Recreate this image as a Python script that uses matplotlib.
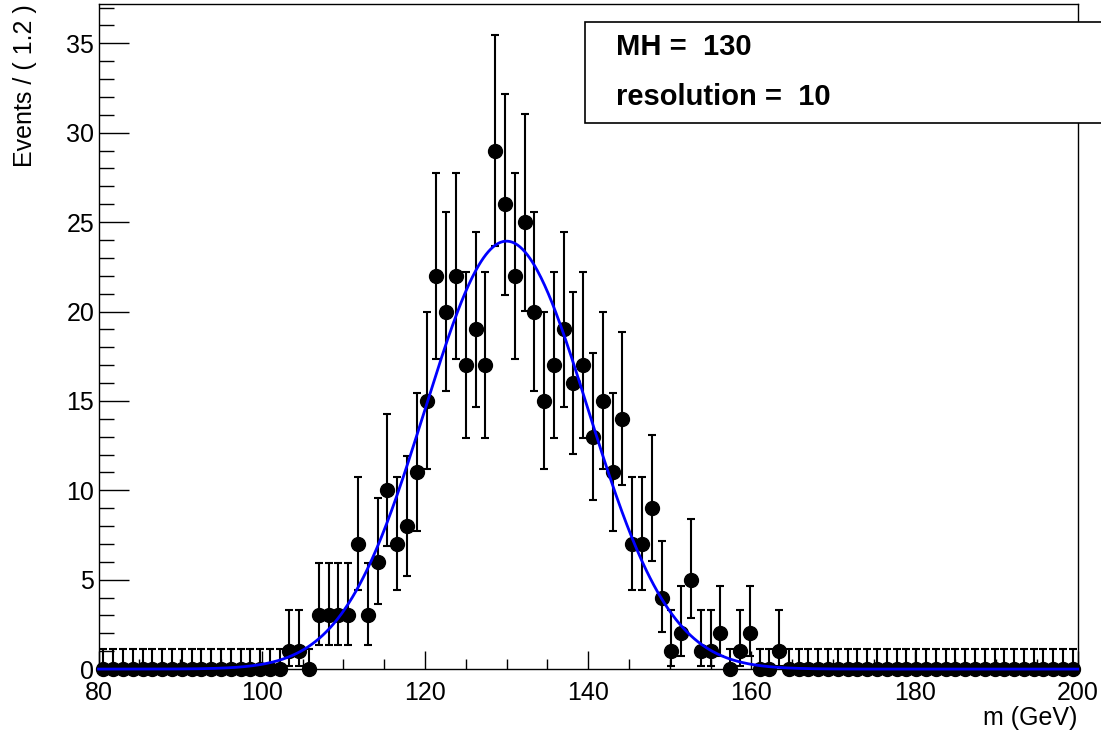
import math
import numpy as np
import matplotlib
matplotlib.use("Agg")
import matplotlib.pyplot as plt
from matplotlib.patches import Rectangle
from matplotlib.ticker import MultipleLocator

plt.rcParams['font.family'] = ['Liberation Sans', 'DejaVu Sans']

# binning of the mass histogram
m_low, m_high, n_bins = 80.0, 200.0, 100
bin_width = (m_high - m_low) / n_bins

# event counts per bin
counts = [0] * 19 + [
    1, 1, 0, 3, 3, 3, 3, 7, 3, 6, 10, 7, 8, 11, 15,
    22, 20, 22, 17, 19, 17, 29, 26, 22, 25, 20, 15, 17, 19, 16,
    17, 13, 15, 11, 14, 7, 7, 9, 4, 1, 2, 5, 1, 1, 2,
    0, 1, 2, 0, 0, 1,
] + [0] * 30

# model parameters
MH = 130
resolution = 10

counts = np.array(counts, dtype=float)
centers = m_low + bin_width * (np.arange(n_bins) + 0.5)


def pois_cdf(k, mu):
    if k < 0:
        return 0.0
    return sum(math.exp(-mu + j * math.log(mu) - math.lgamma(j + 1)) for j in range(k + 1))


def solve(f, target, lo, hi):
    # f is decreasing in mu
    for _ in range(80):
        mid = 0.5 * (lo + hi)
        if f(mid) > target:
            lo = mid
        else:
            hi = mid
    return 0.5 * (lo + hi)


def poisson_interval(n, cl=0.6827):
    n = int(n)
    if n == 0:
        return 0.0, -math.log(1 - cl)
    a = (1 - cl) / 2
    lo = solve(lambda mu: pois_cdf(n - 1, mu), 1 - a, 1e-9, n + 20)
    hi = solve(lambda mu: pois_cdf(n, mu), a, 1e-9, n + 40)
    return lo, hi


intervals = [poisson_interval(n) for n in counts]
err_lo = counts - np.array([i[0] for i in intervals])
err_hi = np.array([i[1] for i in intervals]) - counts

fig = plt.figure(figsize=(11.01, 7.31), dpi=100)
ax = fig.add_axes([0.0895, 0.0847, 0.8894, 0.9098])

ax.errorbar(centers, counts, yerr=[err_lo, err_hi], fmt='o', color='black',
            markersize=10, elinewidth=1.5, capsize=3, capthick=1.5,
            clip_on=False, zorder=3)

# gaussian model normalised to the number of events
x = np.linspace(m_low, m_high, 800)
norm = counts.sum() * bin_width / (math.sqrt(2 * math.pi) * resolution)
y = norm * np.exp(-0.5 * ((x - MH) / resolution) ** 2)
ax.plot(x, y, color='#0000ff', linewidth=2.0, clip_on=False, zorder=4)

ax.set_xlim(m_low, m_high)
ax.set_ylim(0, 37.2)

ax.xaxis.set_major_locator(MultipleLocator(20))
ax.xaxis.set_minor_locator(MultipleLocator(5))
ax.yaxis.set_major_locator(MultipleLocator(5))
ax.yaxis.set_minor_locator(MultipleLocator(1))

ax.tick_params(axis='x', which='major', direction='in', length=13, width=1,
               labelsize=18, pad=8.5, top=False)
ax.tick_params(axis='x', which='minor', direction='in', length=7, width=1, top=False)
ax.tick_params(axis='y', which='major', direction='in', length=21.5, width=1,
               labelsize=18, pad=3, right=False)
ax.tick_params(axis='y', which='minor', direction='in', length=11, width=1, right=False)
for s in ax.spines.values():
    s.set_linewidth(1.0)

fig.text(1077 / 1101, 1 - 718 / 731, 'm (GeV)', ha='right', va='center', fontsize=18)
fig.text(25 / 1101, 1 - 4 / 731, 'Events / ( 1.2 )', rotation=90,
         ha='center', va='top', fontsize=18)

# parameter box
box = Rectangle((585 / 1101, 1 - 123 / 731), 0.6, 101 / 731,
                transform=fig.transFigure, facecolor='white',
                edgecolor='black', linewidth=1.2, zorder=10)
fig.add_artist(box)
fig.text(616 / 1101, 1 - 47 / 731, 'MH =  %d' % MH, fontsize=21,
         fontweight='bold', va='center', zorder=11)
fig.text(616 / 1101, 1 - 97 / 731, 'resolution =  %d' % resolution, fontsize=21,
         fontweight='bold', va='center', zorder=11)

fig.savefig('out.png', dpi=100)
